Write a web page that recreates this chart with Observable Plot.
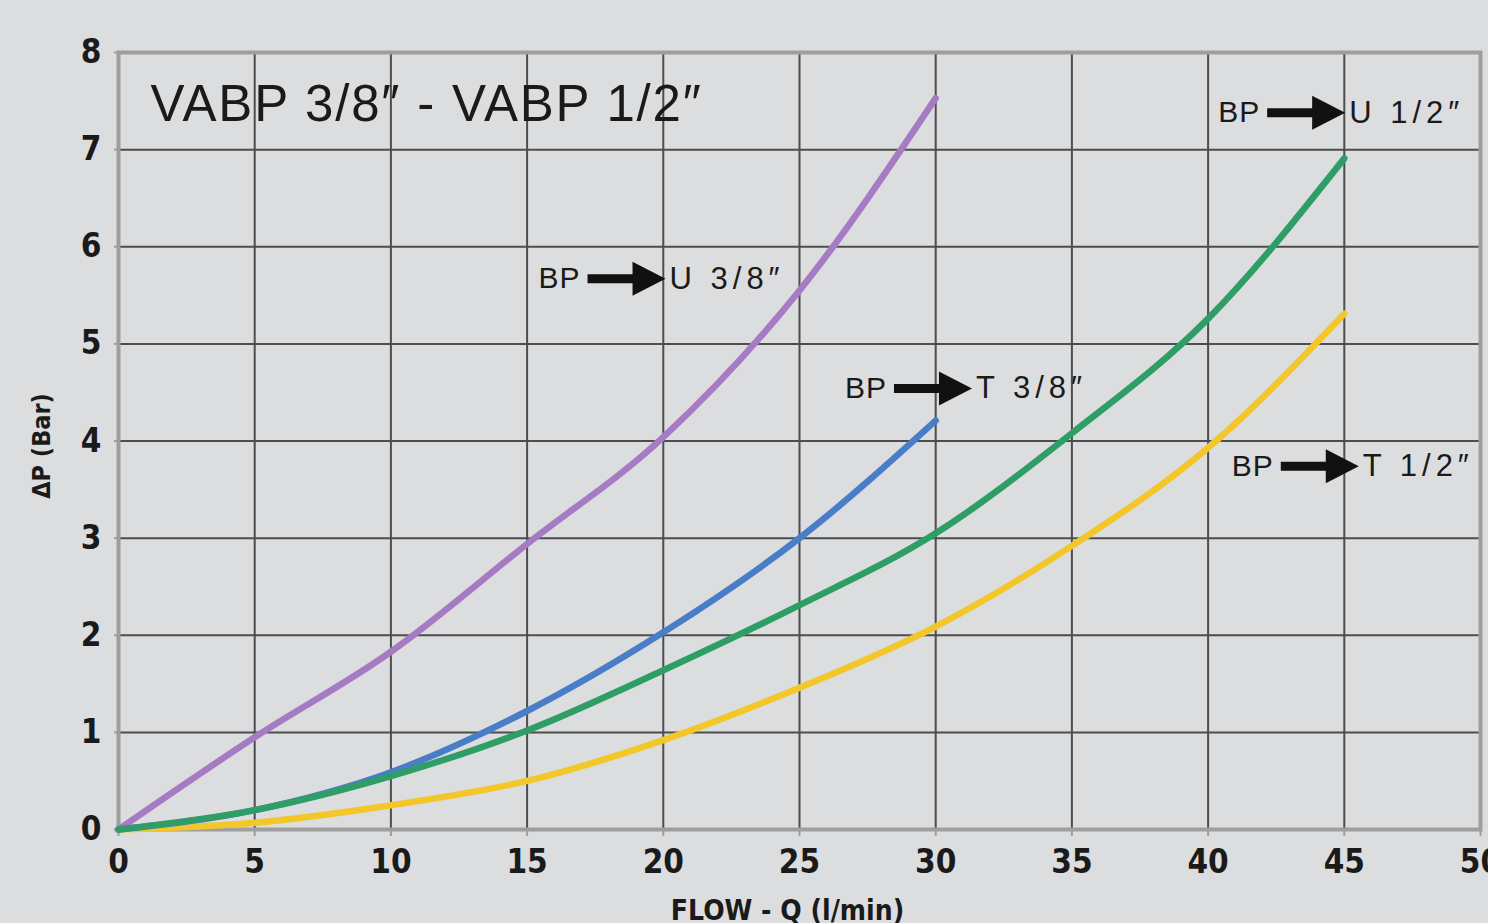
<!DOCTYPE html>
<html>
<head>
<meta charset="utf-8">
<script src="https://cdn.jsdelivr.net/npm/d3@7"></script>
<script src="https://cdn.jsdelivr.net/npm/@observablehq/plot@0.6"></script>
<style>
  html, body { margin: 0; padding: 0; background: #dcdddf; }
  #chart svg { display: block; }
</style>
</head>
<body>
<div id="chart"></div>
<script>
// ---- data ----
const xTicks = [0, 5, 10, 15, 20, 25, 30, 35, 40, 45, 50];
const yTicks = [0, 1, 2, 3, 4, 5, 6, 7, 8];

const flow38 = [0, 5, 10, 15, 20, 25, 30];
const flow12 = [0, 5, 10, 15, 20, 25, 30, 35, 40, 45];

const dpU38 = [0, 0.95, 1.83, 2.94, 4.04, 5.55, 7.53];        // BP -> U 3/8"
const dpT38 = [0, 0.20, 0.59, 1.22, 2.03, 3.00, 4.21];        // BP -> T 3/8"
const dpU12 = [0, 0.20, 0.55, 1.02, 1.64, 2.31, 3.05, 4.08, 5.26, 6.91]; // BP -> U 1/2"
const dpT12 = [0, 0.07, 0.25, 0.50, 0.92, 1.46, 2.09, 2.92, 3.93, 5.31]; // BP -> T 1/2"

const seriesNames  = ["T 1/2″", "U 3/8″", "T 3/8″", "U 1/2″"];
const seriesColors = ["#f3c72a", "#a67bc4", "#4a7dc8", "#2f9d66"];

// annotation arrows (data coordinates)
const annText   = ["U 3/8″", "T 3/8″", "U 1/2″", "T 1/2″"];
const annX      = [18.65, 29.9, 43.6, 44.1];
const annY      = [5.67, 4.54, 7.38, 3.74];

const titleText = "VABP 3/8″ - VABP 1/2″";
const xLabel = "FLOW - Q (l/min)";
const yLabel = "ΔP (Bar)";

// ---- build tidy table ----
const curves = [
  {flow: flow12, dp: dpT12},
  {flow: flow38, dp: dpU38},
  {flow: flow38, dp: dpT38},
  {flow: flow12, dp: dpU12}
];
const rows = [];
curves.forEach((c, i) => c.flow.forEach((q, j) => rows.push({series: seriesNames[i], q, dp: c.dp[j]})));
const ann = annText.map((t, i) => ({text: t, x: annX[i], y: annY[i]}));

// custom arrow symbol: shaft + filled head, centred on the point
const arrowSymbol = {
  draw(ctx) {
    ctx.moveTo(-39, -4.5);
    ctx.lineTo(6, -4.5);
    ctx.lineTo(6, -17);
    ctx.lineTo(39, 0);
    ctx.lineTo(6, 17);
    ctx.lineTo(6, 4.5);
    ctx.lineTo(-39, 4.5);
    ctx.closePath();
  }
};

const tickFont = "'Liberation Sans Narrow', 'DejaVu Sans Condensed', 'Arial Narrow', sans-serif";
const textFont = "'Liberation Sans', Arial, sans-serif";

const chart = Plot.plot({
  width: 1488,
  height: 923,
  marginLeft: 118,
  marginRight: 8,
  marginTop: 52,
  marginBottom: 94,
  style: {background: "#dcdddf", color: "#1a1a1a", fontFamily: textFont},
  x: {domain: [0, 50]},
  y: {domain: [0, 8]},
  color: {domain: seriesNames, range: seriesColors},
  marks: [
    Plot.gridX(xTicks, {stroke: "#4d4d4d", strokeOpacity: 1, strokeWidth: 2}),
    Plot.gridY(yTicks, {stroke: "#4d4d4d", strokeOpacity: 1, strokeWidth: 2}),
    Plot.frame({stroke: "#9e9e9e", strokeWidth: 4}),
    Plot.axisX({ticks: xTicks, tickSize: 7, tickPadding: 13, stroke: "#9e9e9e", strokeWidth: 2,
      fontSize: 33, fontWeight: "bold", fontFamily: tickFont, fill: "#1a1a1a", label: null}),
    Plot.axisY({ticks: yTicks, tickSize: 4, tickPadding: 13, stroke: "#9e9e9e", strokeWidth: 2,
      fontSize: 33, fontWeight: "bold", fontFamily: tickFont, fill: "#1a1a1a", label: null}),
    Plot.line(rows, {x: "q", y: "dp", z: "series", stroke: "series", strokeWidth: 6.5,
      curve: "monotone-x", strokeLinecap: "round", strokeLinejoin: "round"}),
    // title
    Plot.text([titleText], {text: d => d, frameAnchor: "top-left", textAnchor: "start", lineAnchor: "middle",
      dx: 32, dy: 52, fontSize: 51, fill: "#1a1a1a"}),
    // axis labels
    Plot.text([xLabel], {text: d => d, frameAnchor: "bottom", textAnchor: "middle", lineAnchor: "middle",
      dx: -12, dy: 82, fontSize: 28, fontWeight: "bold", fontFamily: tickFont, fill: "#1a1a1a"}),
    Plot.text([yLabel], {text: d => d, frameAnchor: "left", textAnchor: "middle", lineAnchor: "middle",
      rotate: -90, dx: -77, dy: 5, fontSize: 25, fontWeight: "bold", fontFamily: tickFont, fill: "#1a1a1a"}),
    // annotations
    Plot.dot(ann, {x: "x", y: "y", symbol: arrowSymbol, r: 5, fill: "#111", stroke: null}),
    Plot.text(ann, {x: "x", y: "y", text: () => "BP", textAnchor: "end", dx: -46, fontSize: 30, fill: "#1a1a1a"}),
    Plot.text(ann, {x: "x", y: "y", text: "text", textAnchor: "start", dx: 43, fontSize: 31, fill: "#1a1a1a"})
  ]
});

// letter spacing tweaks to match the wide original lettering
d3.select(chart).selectAll("text")
  .filter(function () { return this.textContent === titleText; })
  .attr("letter-spacing", "1.8px");
d3.select(chart).selectAll("text")
  .filter(function () { return annText.includes(this.textContent); })
  .attr("letter-spacing", "5px");
d3.select(chart).selectAll("text")
  .filter(function () { return this.textContent === "BP"; })
  .attr("letter-spacing", "1px");

document.getElementById("chart").append(chart);
</script>
</body>
</html>
